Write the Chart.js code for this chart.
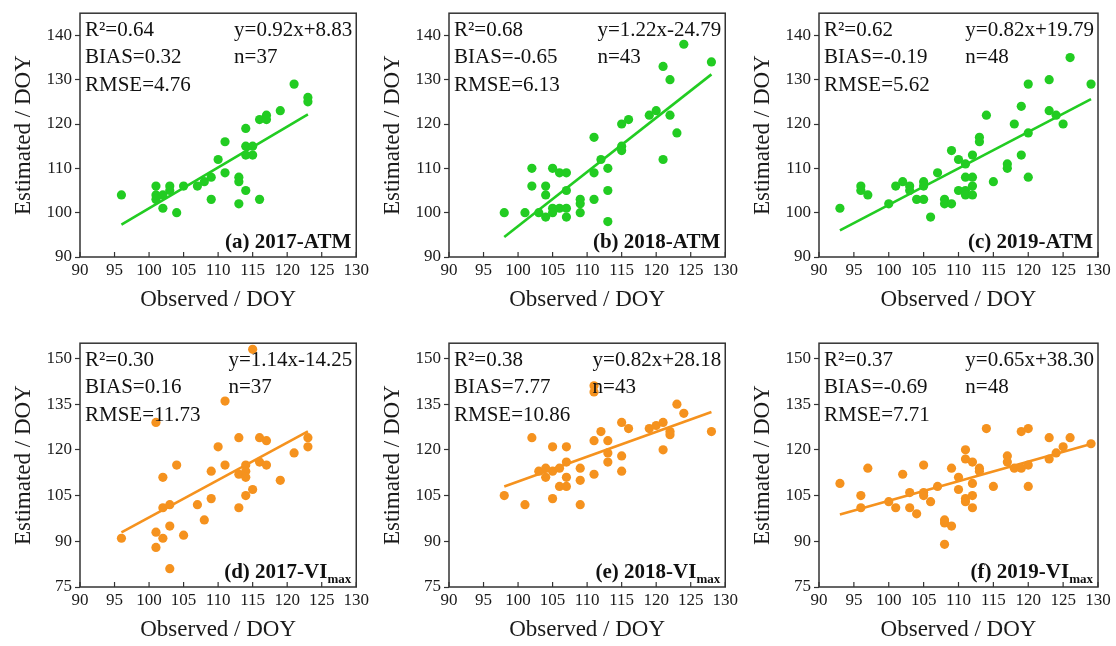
<!DOCTYPE html>
<html>
<head>
<meta charset="utf-8">
<script src="https://cdn.jsdelivr.net/npm/chart.js@4.4.0/dist/chart.umd.min.js"></script>
<style>
  body { margin: 0; background: #fff; width: 1116px; height: 646px; position: relative; overflow: hidden; }
  canvas { position: absolute; }
</style>
</head>
<body>
<canvas id="cA" width="372" height="316" style="left:0px;top:0px"></canvas>
<canvas id="cB" width="372" height="316" style="left:369px;top:0px"></canvas>
<canvas id="cC" width="377" height="316" style="left:739px;top:0px"></canvas>
<canvas id="cD" width="372" height="316" style="left:0px;top:330px"></canvas>
<canvas id="cE" width="372" height="316" style="left:369px;top:330px"></canvas>
<canvas id="cF" width="377" height="316" style="left:739px;top:330px"></canvas>
<script>
// ejes comunes
const xTicks = [90, 95, 100, 105, 110, 115, 120, 125, 130];
const yTicksATM = [90, 100, 110, 120, 130, 140];
const yTicksVI = [75, 90, 105, 120, 135, 150];

// (a) 2017-ATM
const obsA = [96,101,101,101,102,102,103,103,104,105,107,108,109,109,110,111,111,113,113,113,114,114,114,114,115,115,116,116,117,117,119,121,123,123];
const estA = [104,106,104,103,104,101,106,105,100,106,106,107,108,103,112,116,109,108,107,102,119,115,113,105,115,113,121,103,122,121,123,129,126,125];
const fitXA = [96, 123];
const fitYA = [97.3, 122.2];

// (b) 2018-ATM
const obsB = [98,101,102,102,103,104,104,104,105,105,105,106,106,107,107,107,107,109,109,109,111,111,111,112,113,113,113,115,115,115,116,119,120,121,121,122,122,123,124,128];
const estB = [100,100,110,106,100,106,104,99,110,101,100,109,101,109,105,101,99,103,102,100,117,109,103,112,110,105,98,120,115,114,121,122,123,133,112,130,122,118,138,134];
const fitXB = [98, 128];
const fitYB = [94.5, 131.2];

// (c) 2019-ATM
const obsC = [93,96,96,97,100,101,102,103,103,104,105,105,105,106,107,108,108,109,109,110,110,111,111,111,111,112,112,112,112,113,113,114,115,117,117,118,119,119,120,120,120,123,123,124,125,126,129];
const estC = [101,106,105,104,102,106,107,106,105,103,107,106,103,99,109,103,102,114,102,112,105,111,108,105,104,113,108,106,104,117,116,122,107,111,110,120,124,113,129,118,108,130,123,122,120,135,129];
const fitXC = [93, 129];
const fitYC = [96.0, 125.6];

// (d) 2017-VImax
const obsD = [96,101,101,101,102,102,102,103,103,103,104,105,107,108,109,109,110,111,111,113,113,113,114,114,114,114,115,115,116,116,117,117,119,121,123,123];
const estD = [91,129,93,88,111,101,91,102,95,81,115,92,102,97,113,104,121,136,115,124,112,101,115,113,111,105,153,107,124,116,123,115,110,119,124,121];
const fitXD = [96, 123];
const fitYD = [92.9, 126.1];

// (e) 2018-VImax
const obsE = [98,101,102,103,104,104,105,105,105,106,106,107,107,107,107,109,109,109,111,111,111,111,112,113,113,113,115,115,115,116,119,120,121,121,122,122,123,124,128];
const estE = [105,102,124,113,114,111,121,113,104,114,108,121,116,111,108,114,110,102,141,139,123,112,126,123,119,116,129,118,113,127,127,128,129,120,126,125,135,132,126];
const fitXE = [98, 128];
const fitYE = [108.0, 132.4];

// (f) 2019-VImax
const obsF = [93,96,96,97,100,101,102,103,103,104,105,105,105,106,107,108,108,108,109,109,110,110,111,111,111,111,112,112,112,112,113,113,114,115,117,117,118,119,119,120,120,120,123,123,124,125,126,129];
const estF = [109,105,101,114,103,101,112,106,101,99,115,106,105,103,108,97,96,89,114,95,111,107,120,117,104,103,116,109,105,101,114,113,127,108,118,116,114,126,114,127,115,108,124,117,119,121,124,122];
const fitXF = [93, 129];
const fitYF = [98.8, 121.9];

// textos de cada panel
const statsA = ["R²=0.64", "BIAS=0.32", "RMSE=4.76"];
const statsB = ["R²=0.68", "BIAS=-0.65", "RMSE=6.13"];
const statsC = ["R²=0.62", "BIAS=-0.19", "RMSE=5.62"];
const statsD = ["R²=0.30", "BIAS=0.16", "RMSE=11.73"];
const statsE = ["R²=0.38", "BIAS=7.77", "RMSE=10.86"];
const statsF = ["R²=0.37", "BIAS=-0.69", "RMSE=7.71"];
const eqs = ["y=0.92x+8.83", "y=1.22x-24.79", "y=0.82x+19.79", "y=1.14x-14.25", "y=0.82x+28.18", "y=0.65x+38.30"];
const ns = ["n=37", "n=43", "n=48", "n=37", "n=43", "n=48"];
const labels = ["(a) 2017-ATM", "(b) 2018-ATM", "(c) 2019-ATM", "(d) 2017-VI", "(e) 2018-VI", "(f) 2019-VI"];
const subs = ["", "", "", "max", "max", "max"];

const GREEN = "#22cc22";
const ORANGE = "#f5921e";
const AXIS = "#333333";
const FONT = '"Liberation Serif", "Times New Roman", serif';

Chart.defaults.font.family = FONT;
Chart.defaults.color = "#1a1a1a";

// marco, ticks hacia dentro y textos del panel
const panelPlugin = {
    id: "panelText",
    afterDraw(chart, args, o) {
        const ctx = chart.ctx;
        const a = chart.chartArea;
        const sx = chart.scales.x;
        ctx.save();
        ctx.strokeStyle = AXIS;
        ctx.lineWidth = 1.2;
        sx.ticks.forEach(t => {
            const px = sx.getPixelForValue(t.value);
            ctx.beginPath();
            ctx.moveTo(px, a.bottom);
            ctx.lineTo(px, a.bottom - 5);
            ctx.stroke();
        });
        ctx.lineWidth = 1.5;
        ctx.strokeRect(a.left, a.top, a.right - a.left, a.bottom - a.top);

        ctx.fillStyle = "#111";
        ctx.font = "21px " + FONT;
        ctx.textBaseline = "middle";
        ctx.textAlign = "left";
        o.stats.forEach((s, i) => ctx.fillText(s, a.left + 5, a.top + 17.5 + i * 27.2));
        const ex = a.right - 4 - ctx.measureText(o.eq).width;
        ctx.fillText(o.eq, ex, a.top + 17.5);
        ctx.fillText(o.n, ex, a.top + 44.7);

        ctx.textBaseline = "alphabetic";
        ctx.font = "bold 13px " + FONT;
        const subW = o.sub ? ctx.measureText(o.sub).width : 0;
        ctx.font = "bold 21px " + FONT;
        const mainW = ctx.measureText(o.label).width;
        const lx = a.right - 5 - subW - mainW;
        ctx.fillText(o.label, lx, a.bottom - 9);
        if (o.sub) {
            ctx.font = "bold 13px " + FONT;
            ctx.fillText(o.sub, lx + mainW, a.bottom - 4.5);
        }
        ctx.restore();
    }
};

function makePanel(id, obs, est, fitX, fitY, color, yMin, yMax, yTicks, k, stats, padRight) {
    const pts = obs.map((v, i) => ({ x: v, y: est[i] }));
    const fit = fitX.map((v, i) => ({ x: v, y: fitY[i] }));
    new Chart(document.getElementById(id), {
        type: "scatter",
        data: {
            datasets: [
                { data: pts, backgroundColor: color, borderWidth: 0, pointRadius: 4.6, pointHoverRadius: 4.6 },
                { data: fit, showLine: true, borderColor: color, borderWidth: 2.6, pointRadius: 0, fill: false }
            ]
        },
        options: {
            responsive: false,
            animation: false,
            devicePixelRatio: 1,
            layout: { padding: { top: 10, right: padRight, left: 0, bottom: 0 } },
            plugins: {
                legend: { display: false },
                tooltip: { enabled: false },
                panelText: { stats: stats, eq: eqs[k], n: ns[k], label: labels[k], sub: subs[k] }
            },
            scales: {
                x: {
                    type: "linear",
                    min: 90, max: 130,
                    afterBuildTicks: s => { s.ticks = xTicks.map(v => ({ value: v })); },
                    afterFit: s => { s.height = 59; },
                    grid: { drawOnChartArea: false, drawTicks: false },
                    border: { display: false },
                    ticks: { font: { size: 17 }, color: "#1a1a1a", padding: 3, autoSkip: false, maxRotation: 0 },
                    title: { display: true, text: "Observed / DOY", font: { size: 23 }, color: "#1a1a1a", padding: { top: 0, bottom: 2 } }
                },
                y: {
                    type: "linear",
                    min: yMin, max: yMax,
                    afterBuildTicks: s => { s.ticks = yTicks.map(v => ({ value: v })); },
                    afterFit: s => { s.width = 80; },
                    grid: { drawOnChartArea: false, drawTicks: true, tickLength: 5, color: AXIS, tickWidth: 1.2 },
                    border: { display: false },
                    ticks: { font: { size: 17 }, color: "#1a1a1a", padding: 3 },
                    title: { display: true, text: "Estimated / DOY", font: { size: 23 }, color: "#1a1a1a", padding: { top: 10, bottom: 0 } }
                }
            }
        },
        plugins: [panelPlugin]
    });
}

makePanel("cA", obsA, estA, fitXA, fitYA, GREEN, 90, 145, yTicksATM, 0, statsA, 15);
makePanel("cB", obsB, estB, fitXB, fitYB, GREEN, 90, 145, yTicksATM, 1, statsB, 15);
makePanel("cC", obsC, estC, fitXC, fitYC, GREEN, 90, 145, yTicksATM, 2, statsC, 18);
makePanel("cD", obsD, estD, fitXD, fitYD, ORANGE, 75, 155, yTicksVI, 3, statsD, 15);
makePanel("cE", obsE, estE, fitXE, fitYE, ORANGE, 75, 155, yTicksVI, 4, statsE, 15);
makePanel("cF", obsF, estF, fitXF, fitYF, ORANGE, 75, 155, yTicksVI, 5, statsF, 18);
</script>
</body>
</html>
